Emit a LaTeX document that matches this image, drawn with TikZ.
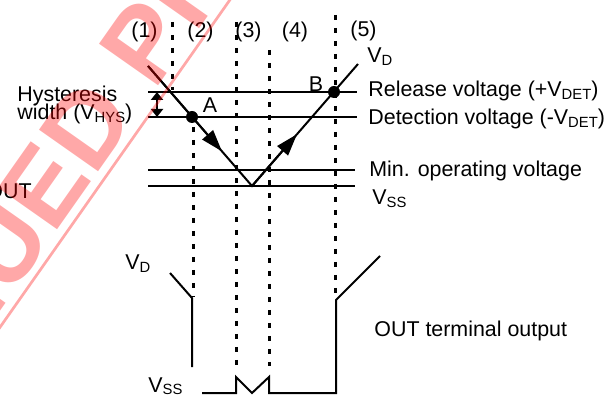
\documentclass[tikz,border=0pt]{standalone}
\usepackage{fontspec}
\setmainfont{Liberation Sans}
\usetikzlibrary{arrows.meta}
\newcommand{\mysub}[1]{\raisebox{-1.2pt}{\fontsize{7.4}{8}\selectfont #1}}
\begin{document}
\begin{tikzpicture}[x=0.5pt,y=-0.5pt,
  lbl/.style={inner sep=0pt, font=\fontsize{10.7}{12}\selectfont},
  sline/.style={line width=1pt},
  dots/.style={line width=1.5pt, dash pattern=on 2.5pt off 4pt},
  wm/.style={inner sep=0pt, text=red, font=\fontsize{52.5}{55}\selectfont\bfseries},
  arr/.style={-{Triangle[length=11pt,width=7pt]}},
  harr/.style={{Triangle[length=4pt,width=6pt]}-{Triangle[length=4pt,width=6pt]}},
  dot/.style={circle, fill=black, inner sep=0pt, minimum size=6pt}]
\path[use as bounding box, clip] (0,0) rectangle (613,399);

% horizontal levels
\coordinate (relL) at (148,92);  \coordinate (relR) at (357,92);
\coordinate (detL) at (148,117); \coordinate (detR) at (357,117);
\coordinate (minL) at (148,170); \coordinate (minR) at (355,170);
\coordinate (vssL) at (148,186); \coordinate (vssR) at (355,186);
\draw[sline] (relL) -- (relR);
\draw[sline] (detL) -- (detR);
\draw[sline] (minL) -- (minR);
\draw[sline] (vssL) -- (vssR);

% supply voltage V
\coordinate (vstart) at (148,66);
\coordinate (tipA) at (222,151.4);
\coordinate (vertex) at (252,186);
\coordinate (tipB) at (297,134.2);
\coordinate (vend) at (358,64);
\draw[sline] (vstart) -- (vertex) -- (vend);
\draw[sline, arr] (vstart) -- (tipA);
\draw[sline, arr] (vertex) -- (tipB);
\node[dot] (A) at (192,117) {};
\node[dot] (B) at (334,92) {};

% hysteresis arrow
\coordinate (hT) at (157,92);
\coordinate (hB) at (157,117);
\draw[sline, harr] (hT) -- (hB);

% dotted lines
\coordinate (d1t) at (172,22);  \coordinate (d1b) at (172,90);
\coordinate (d2t) at (193,127); \coordinate (d2b) at (193,297);
\coordinate (d3t) at (236,22);  \coordinate (d3b) at (236,366);
\coordinate (d4t) at (269,50);  \coordinate (d4b) at (269,366);
\coordinate (d5t) at (335,15);  \coordinate (d5b) at (335,297);
\draw[dots] (d1t) -- (d1b);
\draw[dots] (d2t) -- (d2b);
\draw[dots] (d3t) -- (d3b);
\draw[dots] (d4t) -- (d4b);
\draw[dots] (d5t) -- (d5b);

% OUT waveform
\coordinate (o1) at (170,273); \coordinate (o2) at (192,298); \coordinate (o3) at (192,367);
\draw[sline] (o1) -- (o2) -- (o3);
\coordinate (p1) at (202,393); \coordinate (p2) at (236,393); \coordinate (p3) at (236,377);
\coordinate (p4) at (252,393); \coordinate (p5) at (269,377); \coordinate (p6) at (269,393);
\coordinate (p7) at (336,393); \coordinate (p8) at (336,300); \coordinate (p9) at (380,256);
\draw[sline, line join=miter] (p1) -- (p2) -- (p3) -- (p4) -- (p5) -- (p6) -- (p7) -- (p8) -- (p9);

% labels
\node[lbl, anchor=base] (n1) at (144.5,37.5) {(1)};
\node[lbl, anchor=base] (n2) at (200.5,37.5) {(2)};
\node[lbl, anchor=base] (n3) at (248.5,37.5) {(3)};
\node[lbl, anchor=base] (n4) at (295,37.5) {(4)};
\node[lbl, anchor=base] (n5) at (363.5,36.5) {(5)};
\node[lbl, anchor=base west] (vdt) at (367,63) {V\mysub{D}};
\node[lbl, anchor=base west] (rel) at (368,97) {Release voltage (+V\mysub{DET})};
\node[lbl, anchor=base west] (det) at (368,125) {Detection voltage (-V\mysub{DET})};
\node[lbl, anchor=base west] (mino) at (369,177) {Min. operating voltage};
\node[lbl, anchor=base west] (vsst) at (372,205) {V\mysub{SS}};
\node[lbl, anchor=base west] (hys1) at (17,102) {Hysteresis};
\node[lbl, anchor=base west] (hys2) at (17,120) {width (V\mysub{HYS})};
\node[lbl, anchor=base] (la) at (210,113) {A};
\node[lbl, anchor=base] (lb) at (316,92) {B};
\node[lbl, anchor=base east] (outl) at (32,199) {OUT};
\node[lbl, anchor=base west] (vdo) at (125,270) {V\mysub{D}};
\node[lbl, anchor=base west] (vsso) at (148,392) {V\mysub{SS}};
\node[lbl, anchor=base west] (outt) at (374,336) {OUT terminal output};

% watermark
\begin{scope}[opacity=0.34]
\node[wm, anchor=base west, rotate=54.88] (wmR) at (94.2,177.7) {D PRODUCT};
\node[wm, anchor=base east, rotate=54.88] (wmL) at (94.2,177.7) {DISCONTINUE};
\coordinate (wl1) at (253,-33); \coordinate (wl2) at (-23,360);
\draw[red, line width=1.35pt] (wl1) -- (wl2);
\end{scope}
\end{tikzpicture}
\end{document}
